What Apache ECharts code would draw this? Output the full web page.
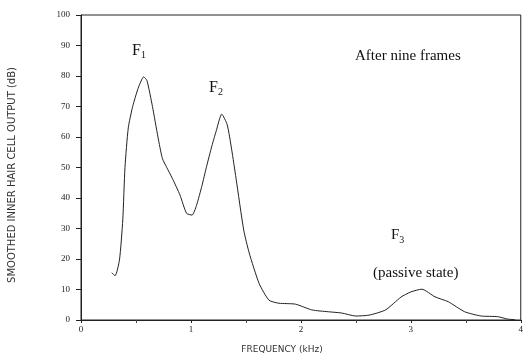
<!DOCTYPE html>
<html><head><meta charset="utf-8">
<script src="https://cdn.jsdelivr.net/npm/echarts@6/dist/echarts.min.js"></script>
<style>html,body{margin:0;padding:0;background:#fff}#c{width:526px;height:357px}</style>
</head><body><div id="c"></div>
<script>
const freq = [0.28,0.31,0.35,0.38,0.40,0.43,0.47,0.52,0.57,0.60,0.65,0.70,0.74,0.78,0.83,0.90,0.96,1.01,1.05,1.10,1.14,1.19,1.23,1.28,1.33,1.37,1.41,1.48,1.53,1.62,1.71,1.80,1.95,2.10,2.25,2.37,2.50,2.62,2.77,2.91,3.00,3.10,3.22,3.34,3.49,3.64,3.79,3.88,3.95];
const level = [15.5,14.5,19.7,32.8,50,63,70,76,79.7,78.5,70,60,53,50,46.5,41,35,34.4,37.5,44,50,57,62,67.5,64,56,46.5,29.5,22,12,6.5,5.5,5.2,3.3,2.7,2.3,1.3,1.6,3.3,7.5,9.2,10.1,7.6,6,2.7,1.3,1.1,0.3,0.1];
const yTicks = [0,10,20,30,40,50,60,70,80,90,100];
const xTicks = [0,1,2,3,4];
const serif = '"Liberation Serif","DejaVu Serif",serif';
const sans = '"DejaVu Sans",sans-serif';
const chart = echarts.init(document.getElementById('c'));
const fsub = (t, n, size) => ({rich:{a:{fontFamily:serif,fontSize:size,fill:'#111'},b:{fontFamily:serif,fontSize:10,fill:'#111',verticalAlign:'bottom',padding:[9,0,0,0]}},text:'{a|'+t+'}{b|'+n+'}'});
chart.setOption({
  animation:false,
  grid:{left:81,right:3,top:15,bottom:37,show:true,borderColor:'#222',borderWidth:1},
  xAxis:{type:'value',min:0,max:4,interval:1,
    axisLine:{lineStyle:{color:'#222'}},
    axisTick:{length:3,lineStyle:{color:'#222'}},
    minorTick:{show:true,splitNumber:2,length:3,lineStyle:{color:'#444'}},
    axisLabel:{fontFamily:serif,fontSize:9,color:'#222',margin:5,
      formatter:v=>xTicks.includes(v)?String(v):''},
    splitLine:{show:false}},
  yAxis:{type:'value',min:0,max:100,interval:10,
    axisLine:{lineStyle:{color:'#222'}},
    axisTick:{length:5,lineStyle:{color:'#222'}},
    axisLabel:{fontFamily:serif,fontSize:9,color:'#222',margin:11,
      formatter:v=>yTicks.includes(v)?String(v):''},
    splitLine:{show:false}},
  series:[{type:'line',data:freq.map((f,i)=>[f,level[i]]),smooth:0.2,showSymbol:false,
    lineStyle:{color:'#222',width:1}}],
  graphic:[
    {type:'text',x:12,y:175,rotation:Math.PI/2,style:{text:'SMOOTHED INNER HAIR CELL OUTPUT (dB)',fontFamily:sans,fontSize:10,fill:'#333',align:'center',verticalAlign:'middle'}},
    {type:'text',x:282,y:350,style:{text:'FREQUENCY (kHz)',fontFamily:sans,fontSize:9,fill:'#333',align:'center',verticalAlign:'middle'}},
    {type:'text',left:132,top:43,style:fsub('F','1',16)},
    {type:'text',left:209,top:80,style:fsub('F','2',16)},
    {type:'text',left:391,top:228,style:fsub('F','3',15)},
    {type:'text',left:373,top:266,style:{text:'(passive state)',fontFamily:serif,fontSize:15,fill:'#111'}},
    {type:'text',left:355,top:49,style:{text:'After nine frames',fontFamily:serif,fontSize:15,fill:'#111'}}
  ]
});
</script></body></html>
